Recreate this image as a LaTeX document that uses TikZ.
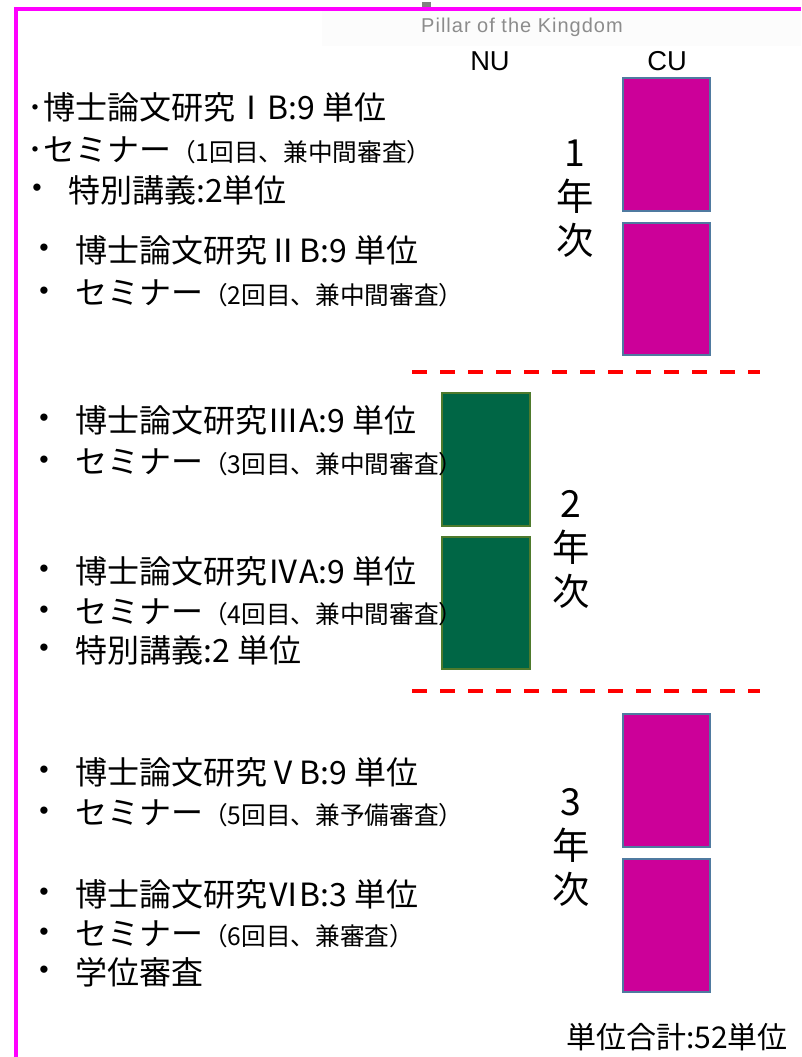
\documentclass[tikz,border=0pt]{standalone}
\usepackage{fontspec}
\newfontfamily\jp{Noto Sans CJK JP}
\newfontfamily\lat{Liberation Sans}
\newfontfamily\pil[LetterSpace=5]{Liberation Sans}
\definecolor{frame}{HTML}{FF00FF}
\definecolor{cufill}{HTML}{CC0099}
\definecolor{cuedge}{HTML}{4F7AA0}
\definecolor{nufill}{HTML}{006645}
\definecolor{nuedge}{HTML}{4E7A2C}
\newcommand\sm{\fontsize{18.5}{22}\selectfont}
\tikzset{
  item/.style={anchor=west, inner sep=0pt, font=\jp\fontsize{24}{28}\selectfont},
  dot/.style={anchor=center, inner sep=0pt, font=\lat\fontsize{20}{24}\selectfont},
  cubox/.style={draw=cuedge, fill=cufill, line width=1.9pt},
  nubox/.style={draw=nuedge, fill=nufill, line width=1.9pt},
  year/.style={align=center, inner sep=0pt, font=\jp\fontsize{28}{33}\selectfont},
  sep/.style={draw=red, line width=2.6pt, dash pattern=on 11.25pt off 9.75pt},
  head/.style={inner sep=0pt, font=\lat\fontsize{20.5}{24}\selectfont}
}
\begin{document}
\begin{tikzpicture}[x=0.75pt,y=-0.75pt]
\useasboundingbox (0,0) rectangle (801,1057);
% header strip
\fill[black!1] (322,10) rectangle (801,46);
\fill[gray] (422,2) rectangle (431,9);
\draw[frame, line width=2.4pt] (16,1057) -- (16,9) -- (801,9);
\node[inner sep=0pt, text=black!45, font=\pil\fontsize{15}{18}\selectfont] (pillar) at (522,27) {Pillar of the Kingdom};
\node[head] (nu) at (490,61) {NU};
\node[head] (cu) at (667,61) {CU};
% boxes
\path[cubox] (623,78) rectangle (710,211) node[pos=0.5,inner sep=0pt] (cu1) {};
\path[cubox] (623,223) rectangle (710,355) node[pos=0.5,inner sep=0pt] (cu2) {};
\path[nubox] (442,393) rectangle (530,526) node[pos=0.5,inner sep=0pt] (nu1) {};
\path[nubox] (442,537) rectangle (530,669) node[pos=0.5,inner sep=0pt] (nu2) {};
\path[cubox] (623,714) rectangle (710,847) node[pos=0.5,inner sep=0pt] (cu3) {};
\path[cubox] (623,859) rectangle (710,992) node[pos=0.5,inner sep=0pt] (cu4) {};
% separators
\coordinate (s1a) at (412,372); \coordinate (s1b) at (760,372);
\coordinate (s2a) at (412,691); \coordinate (s2b) at (760,691);
\draw[sep] (s1a) -- (s1b);
\draw[sep] (s2a) -- (s2b);
% year labels
\node[year] (y1) at (575,199) {1\\年\\次};
\node[year] (y2) at (571,549) {2\\年\\次};
\node[year] (y3) at (571,847) {3\\年\\次};
% year 1
\node[item] (a1) at (27,107) {･博士論文研究ⅠB:9 単位};
\node[item] (a2) at (27,150) {･セミナー{\sm（1回目、兼中間審査）}};
\node[dot] (b3) at (37,190) {•};
\node[item] (a3) at (68,190) {特別講義:2単位};
\node[dot] (b4) at (44,250) {•};
\node[item] (a4) at (75,250) {博士論文研究ⅡB:9 単位};
\node[dot] (b5) at (44,293) {•};
\node[item] (a5) at (75,293) {セミナー{\sm（2回目、兼中間審査）}};
% year 2
\node[dot] (b6) at (44,420) {•};
\node[item] (a6) at (75,420) {博士論文研究ⅢA:9 単位};
\node[dot] (b7) at (44,462) {•};
\node[item] (a7) at (75,462) {セミナー{\sm（3回目、兼中間審査）}};
\node[dot] (b8) at (44,571) {•};
\node[item] (a8) at (75,571) {博士論文研究ⅣA:9 単位};
\node[dot] (b9) at (44,612) {•};
\node[item] (a9) at (75,612) {セミナー{\sm（4回目、兼中間審査）}};
\node[dot] (b10) at (44,650) {•};
\node[item] (a10) at (75,650) {特別講義:2 単位};
% year 3
\node[dot] (b11) at (44,772) {•};
\node[item] (a11) at (75,772) {博士論文研究ⅤB:9 単位};
\node[dot] (b12) at (44,813) {•};
\node[item] (a12) at (75,813) {セミナー{\sm（5回目、兼予備審査）}};
\node[dot] (b13) at (44,894) {•};
\node[item] (a13) at (75,894) {博士論文研究ⅥB:3 単位};
\node[dot] (b14) at (44,934) {•};
\node[item] (a14) at (75,934) {セミナー{\sm（6回目、兼審査）}};
\node[dot] (b15) at (44,972) {•};
\node[item] (a15) at (75,972) {学位審査};
% total
\node[item, font=\jp\fontsize{22.5}{26}\selectfont] (tot) at (566,1037) {単位合計:52単位};
\end{tikzpicture}
\end{document}
